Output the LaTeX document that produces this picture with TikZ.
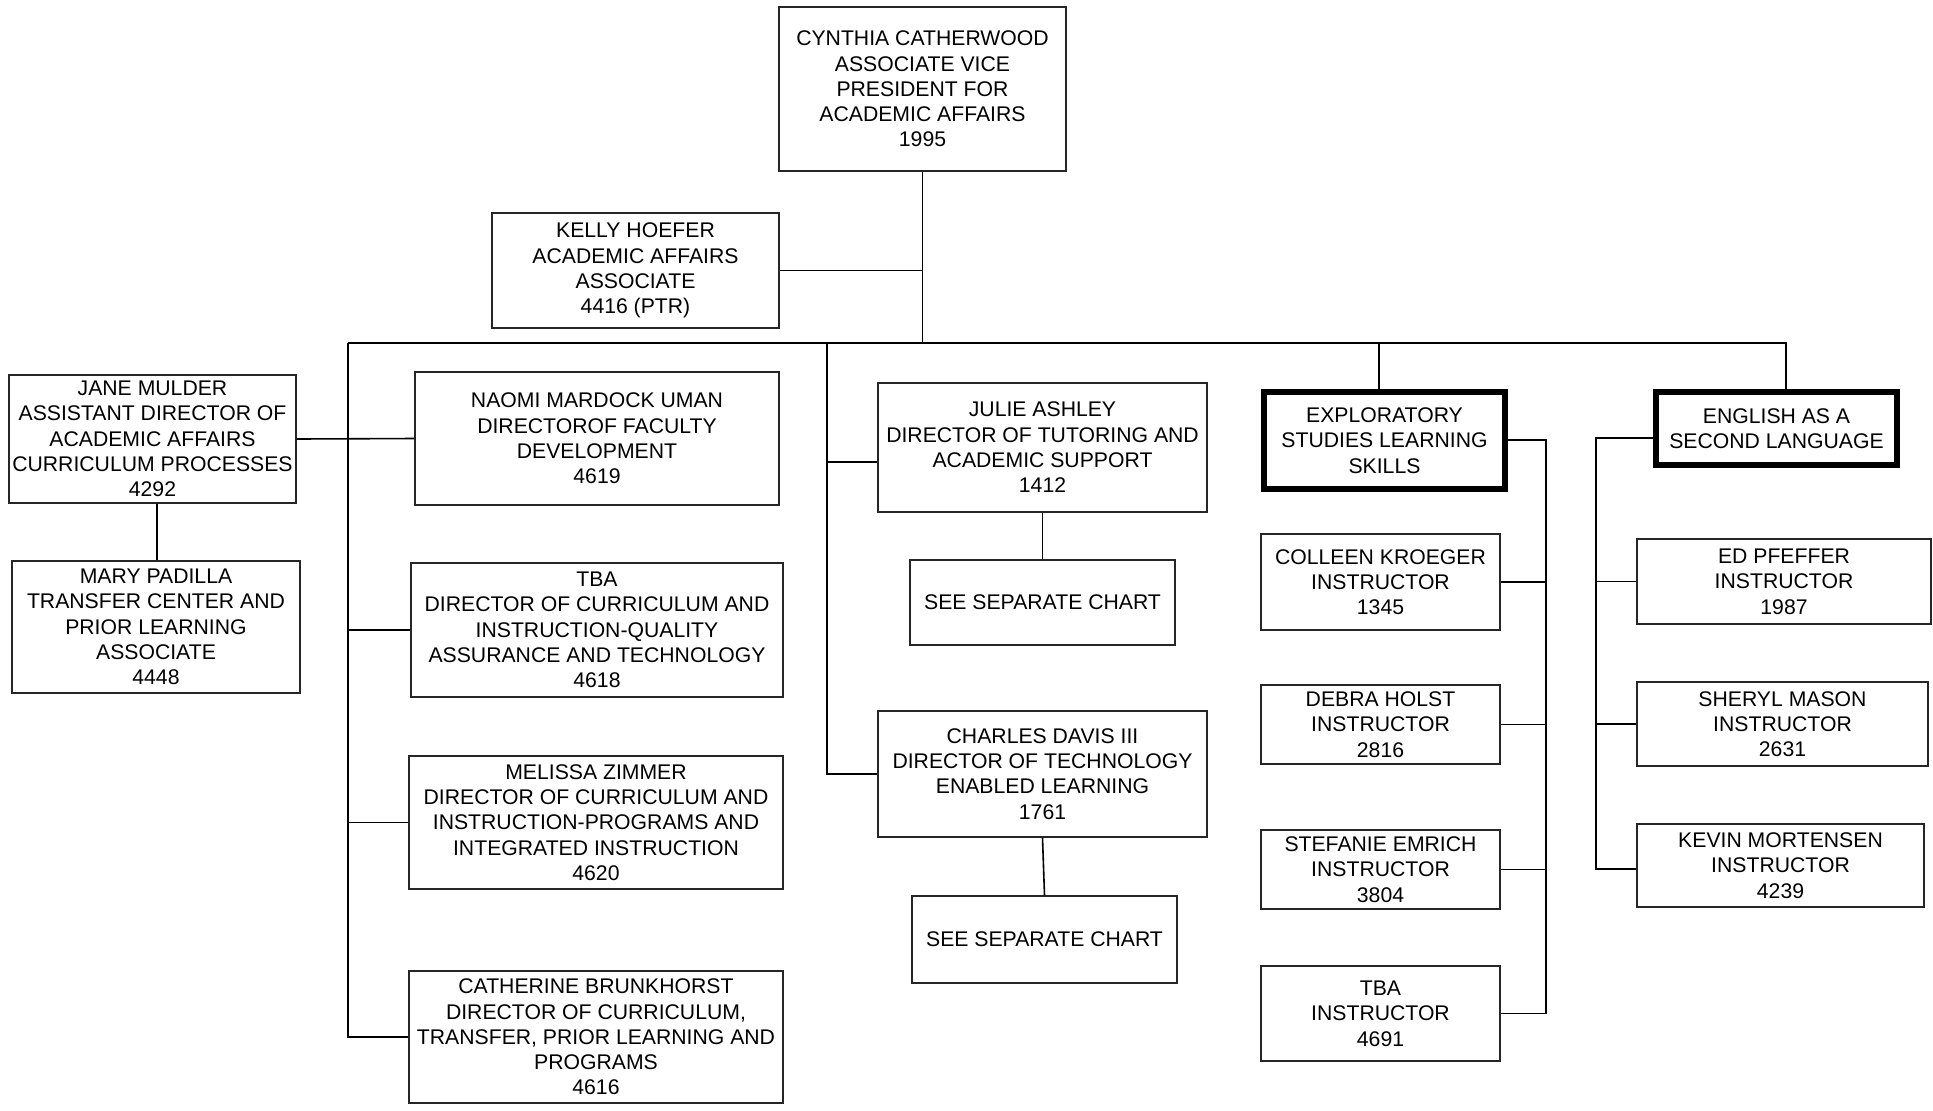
\documentclass[tikz,border=0pt]{standalone}
\usepackage{fontspec}
\setmainfont{Liberation Sans}
\begin{document}
\begin{tikzpicture}[x=0.5pt,y=-0.5pt,
  box/.style={draw=black!85,line width=0.7pt,align=center,inner sep=0pt,
    font=\fontsize{10.6}{12.65}\selectfont},
  boldbox/.style={line width=2.6pt,draw=black},
  link/.style={draw=black,line width=0.8pt}]
\useasboundingbox (0,0) rectangle (1933,1110);
\newcommand\obox[7][]{%
  \pgfmathsetmacro\cx{(#3+#5)/2}\pgfmathsetmacro\cy{(#4+#6)/2}%
  \pgfmathsetmacro\bw{(#5-#3)*0.5}\pgfmathsetmacro\bh{(#6-#4)*0.5}%
  \node[box,#1,minimum width=\bw pt,minimum height=\bh pt] (#2) at (\cx,\cy) {#7};}
% boxes
\obox{cyn}{779}{7}{1066}{171}{CYNTHIA CATHERWOOD\\ASSOCIATE VICE\\PRESIDENT FOR\\ACADEMIC AFFAIRS\\1995}
\obox{kelly}{492}{213}{779}{328}{KELLY HOEFER\\ACADEMIC AFFAIRS\\ASSOCIATE\\4416 (PTR)}
\obox{jane}{9}{375}{296}{503}{JANE MULDER\\ASSISTANT DIRECTOR OF\\ACADEMIC AFFAIRS\\CURRICULUM PROCESSES\\4292}
\obox{mary}{12}{561}{300}{693}{MARY PADILLA\\TRANSFER CENTER AND\\PRIOR LEARNING\\ASSOCIATE\\4448}
\obox{naomi}{415}{372}{779}{505}{NAOMI MARDOCK UMAN\\DIRECTOROF FACULTY\\DEVELOPMENT\\4619}
\obox{tbad}{411}{563}{783}{697}{TBA\\DIRECTOR OF CURRICULUM AND\\INSTRUCTION-QUALITY\\ASSURANCE AND TECHNOLOGY\\4618}
\obox{melissa}{409}{756}{783}{889}{MELISSA ZIMMER\\DIRECTOR OF CURRICULUM AND\\INSTRUCTION-PROGRAMS AND\\INTEGRATED INSTRUCTION\\4620}
\obox{cath}{409}{971}{783}{1103}{CATHERINE BRUNKHORST\\DIRECTOR OF CURRICULUM,\\TRANSFER, PRIOR LEARNING AND\\PROGRAMS\\4616}
\obox{julie}{878}{383}{1207}{512}{JULIE ASHLEY\\DIRECTOR OF TUTORING AND\\ACADEMIC SUPPORT\\1412}
\obox{sepa}{910}{560}{1175}{645}{SEE SEPARATE CHART}
\obox{charles}{878}{711}{1207}{837}{CHARLES DAVIS III\\DIRECTOR OF TECHNOLOGY\\ENABLED LEARNING\\1761}
\obox{sepb}{912}{896}{1177}{983}{SEE SEPARATE CHART}
\obox[boldbox]{expl}{1264}{392}{1505}{489}{EXPLORATORY\\STUDIES LEARNING\\SKILLS}
\obox[boldbox]{esl}{1656}{392}{1897}{465}{ENGLISH AS A\\SECOND LANGUAGE}
\obox{colleen}{1261}{534}{1500}{630}{COLLEEN KROEGER\\INSTRUCTOR\\1345}
\obox{debra}{1261}{685}{1500}{764}{DEBRA HOLST\\INSTRUCTOR\\2816}
\obox{stef}{1261}{830}{1500}{909}{STEFANIE EMRICH\\INSTRUCTOR\\3804}
\obox{tbai}{1261}{966}{1500}{1061}{TBA\\INSTRUCTOR\\4691}
\obox{ed}{1637}{539}{1931}{624}{ED PFEFFER\\INSTRUCTOR\\1987}
\obox{sheryl}{1637}{682}{1928}{766}{SHERYL MASON\\INSTRUCTOR\\2631}
\obox{kevin}{1637}{824}{1924}{907}{KEVIN MORTENSEN\\INSTRUCTOR\\4239}
% bus coordinates
\coordinate (busC) at (cyn.south |- 0,343);
\coordinate (busL) at (348,343);
\coordinate (busM) at (827,343);
\coordinate (busE) at (1379,343);
\coordinate (busR) at (1786,343);
\coordinate (ebus) at (1546,440);
\coordinate (sbus) at (1596,438);
\coordinate (jm) at (157,0);
% connectors
\draw[link] (cyn.south) -- (busC);
\draw[link] (kelly.east) -- (kelly.east -| busC);
\draw[link] (busL) -- (busR) -- (busR |- esl.north);
\draw[link] (busL) |- (cath.west);
\draw[link] (jane.east) -- (naomi.west);
\draw[link] (tbad.west -| busL) -- (tbad.west);
\draw[link] (melissa.west -| busL) -- (melissa.west);
\draw[link] (jm |- jane.south) -- (jm |- mary.north);
\draw[link] (busM) |- (charles.west);
\draw[link] (busM |- 0,462) -- (julie.west |- 0,462);
\draw[link] (julie.south) -- (sepa.north);
\draw[link] (charles.south) -- (sepb.north);
\draw[link] (busE) -- (busE |- expl.north);
\draw[link] (expl.east |- ebus) -- (ebus) |- (tbai.east);
\draw[link] (colleen.east) -- (colleen.east -| ebus);
\draw[link] (debra.east) -- (debra.east -| ebus);
\draw[link] (stef.east) -- (stef.east -| ebus);
\draw[link] (esl.west |- sbus) -- (sbus) |- (kevin.west |- 0,869);
\draw[link] (ed.west) -- (ed.west -| sbus);
\draw[link] (sheryl.west) -- (sheryl.west -| sbus);
\end{tikzpicture}
\end{document}
